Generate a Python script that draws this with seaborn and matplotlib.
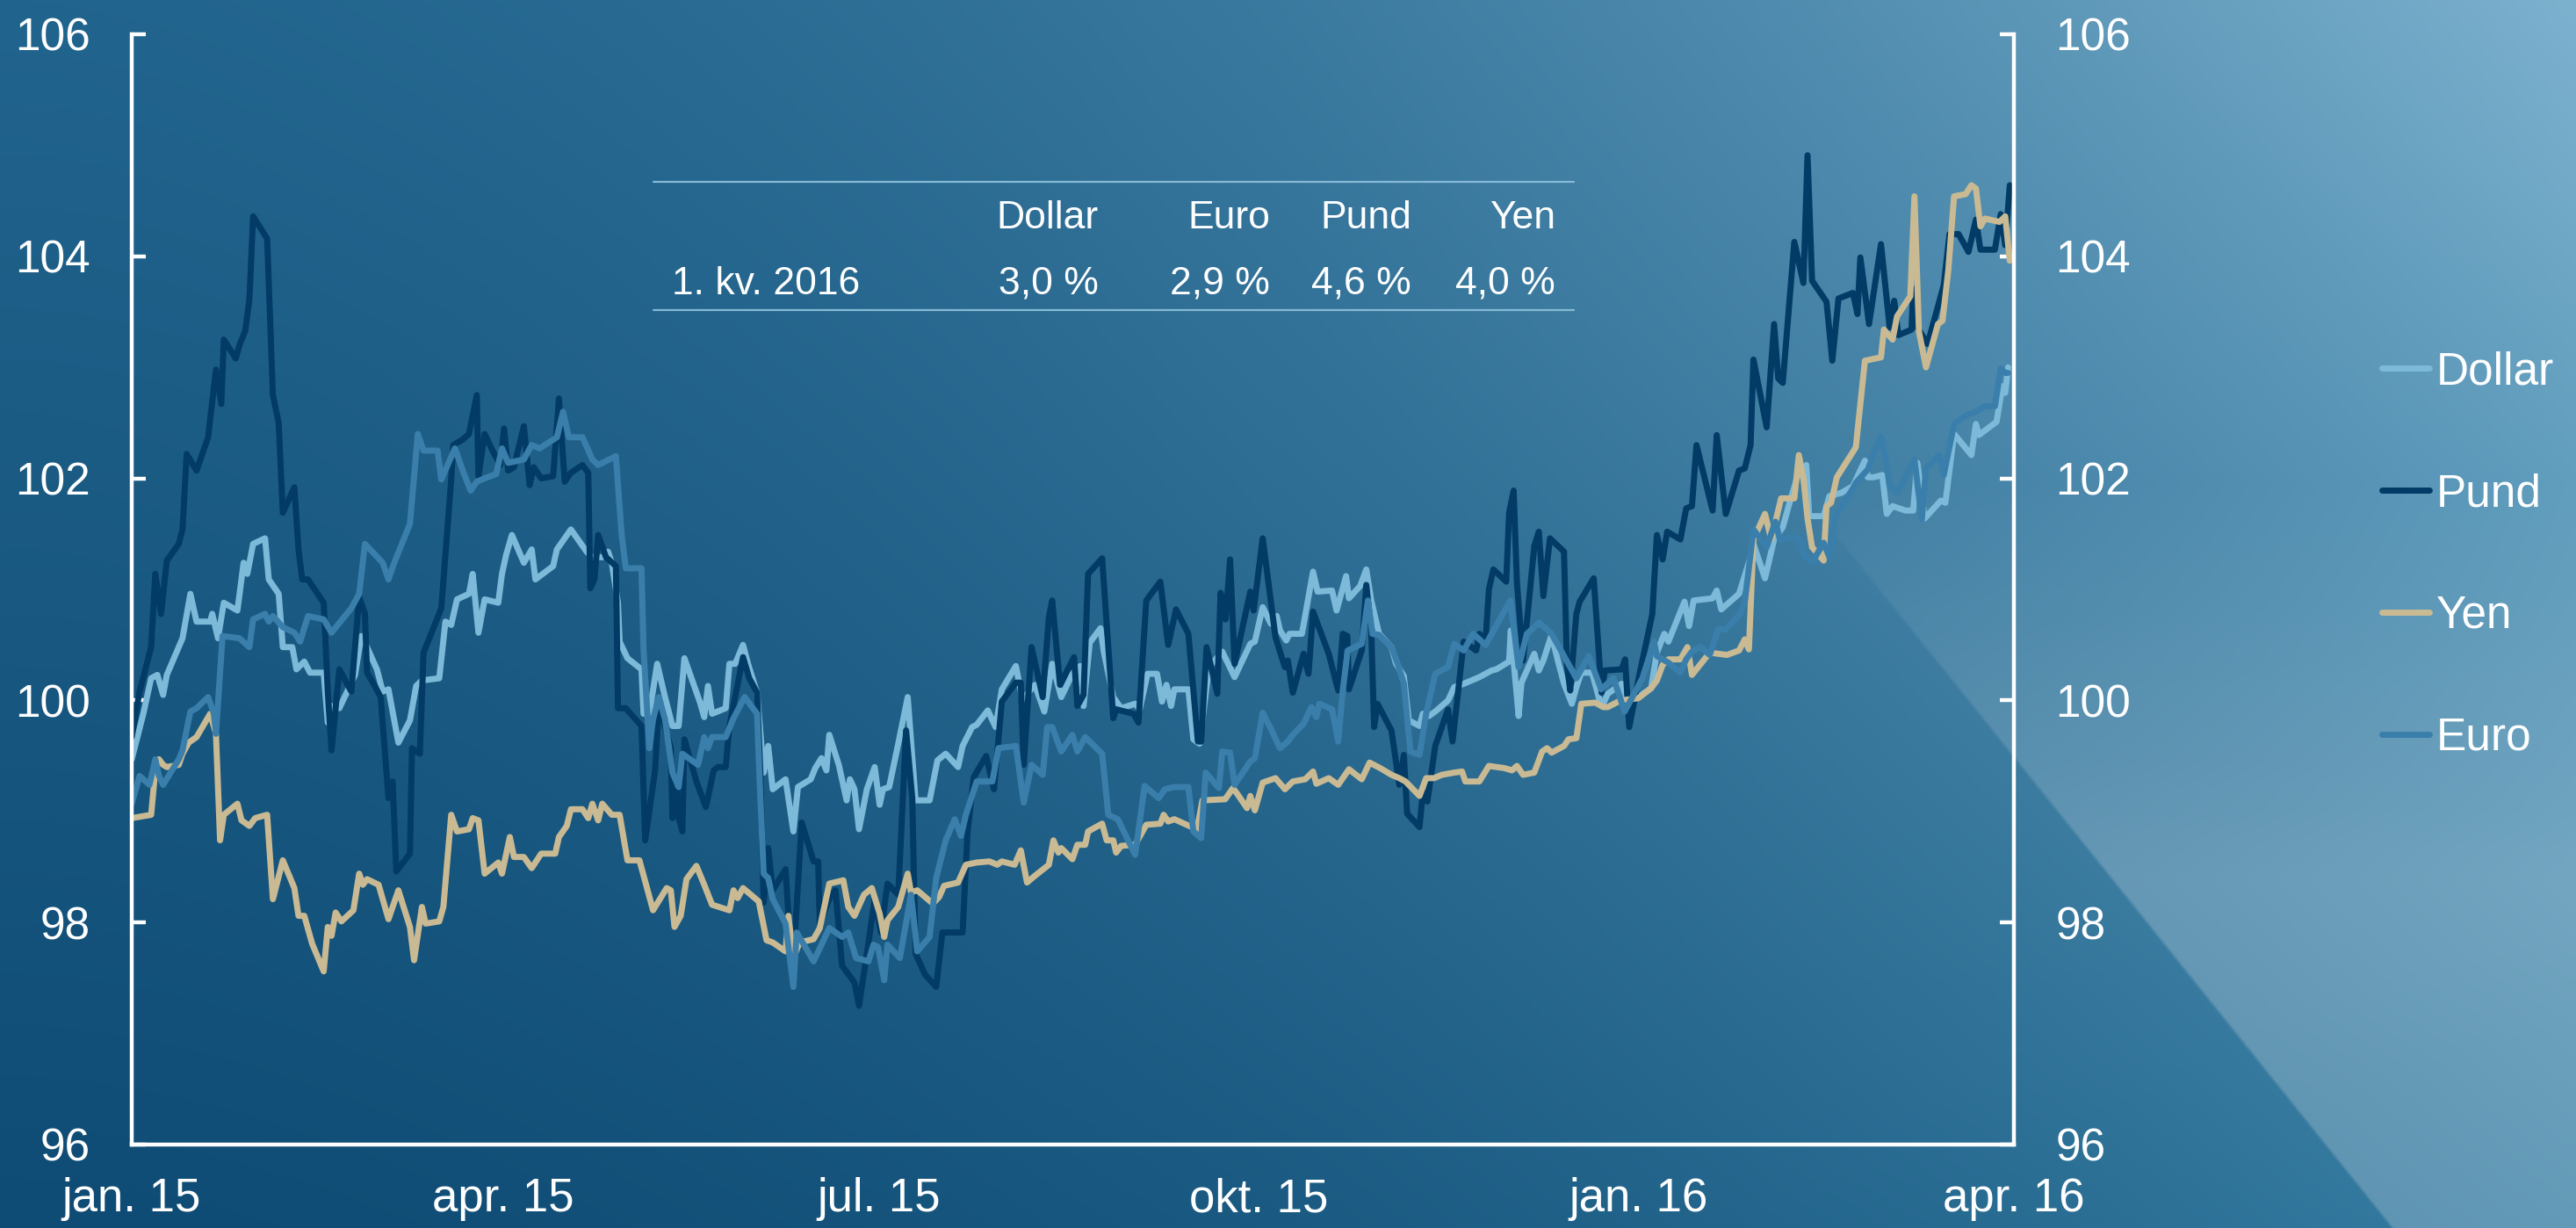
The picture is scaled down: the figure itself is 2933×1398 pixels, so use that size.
import numpy as np
import pandas as pd
import seaborn as sns
import matplotlib.pyplot as plt
import matplotlib.dates as mdates
from matplotlib.lines import Line2D

W, H = 2933, 1398

# --- data: days after 2015-01-01 and index values ---
dollar_days = [0, 2.8, 4.7, 6.2, 7.6, 8.5, 12.3, 14.2, 15.7, 19, 19.5, 20.9, 22.3, 25.6, 27.1, 28, 29.4, 32.3, 33.2, 35.6,
               36.6, 38.9, 39.9, 41.8, 43.2, 46.5, 47.5, 48.4, 50.3, 54.1, 55.6, 57, 59.4, 60.8, 62.2, 64.6, 67.4, 68.9, 70.3, 74.5,
               76, 77.4, 78.8, 81.7, 82.6, 84, 85.5, 88.8, 89.7, 90.7, 92.1, 95, 96.9, 97.8, 102.1, 103, 106.4, 110.2, 111.6, 114,
               115.4, 116.3, 117.8, 118.2, 120.1, 123.5, 124, 125.4, 127.3, 129.2, 131, 132.5, 133.9, 137.7, 138.7, 139.6, 140.6, 143.9, 144.8, 146.2,
               148.1, 149.3, 151.5, 153.1, 154.2, 155.3, 158.4, 160.3, 161.4, 164.5, 165.6, 167.1, 168.3, 169, 171.3, 173.2, 174, 175.1, 176.2, 178.1,
               180, 181.2, 182, 183.5, 185.7, 188, 189.9, 193.3, 195.2, 197.2, 200.2, 201.3, 203.6, 204.7, 207.4, 209.3, 210.8, 214.2, 215.8, 218.8,
               221.1, 223, 225.2, 227.9, 229.8, 230.6, 232.1, 234.7, 235.5, 237.8, 239.7, 243.1, 244.2, 246.1, 248.4, 249.6, 250.7, 251.8, 252.6, 256,
               257.2, 258.7, 261, 264.2, 267.2, 271, 272.1, 274, 276, 277.4, 278.2, 279.7, 280.5, 283.5, 286.2, 287.3, 290.8, 291.9, 294.2, 294.9,
               297.6, 299.1, 300.3, 302.2, 305.2, 306.3, 308.2, 309.4, 312, 312.8, 314.3, 315.8, 318.9, 320.4, 322.7, 326.5, 328, 329.5, 330.6, 333.7,
               334.1, 335.6, 336, 336.7, 339.8, 340.9, 342, 344, 345.5, 347, 348.9, 350, 351.2, 353.8, 355.7, 356.5, 357.6, 361, 361.7, 363.8,
               368.1, 369.5, 371.3, 372.3, 376.2, 377.3, 378.4, 383, 384, 385.1, 389.4, 392.2, 392.9, 395.7, 397.9, 400, 401.8, 403.5, 405.7, 406.4,
               409.9, 411.3, 414.2, 417, 419.9, 420.6, 422, 424.1, 425.2, 426.6, 429.8, 431.6, 432.6, 434.4, 438.3, 439.4, 441.5, 445.7, 446.8, 447.5,
               451.8, 453.2, 453.9, 454.6]
dollar_vals = [99.47, 99.88, 100.2, 100.23, 100.05, 100.23, 100.56, 100.96, 100.71, 100.71, 100.78, 100.56, 100.88, 100.81, 101.24, 101.14, 101.41, 101.46, 101.09, 100.96,
               100.48, 100.48, 100.28, 100.35, 100.25, 100.25, 99.8, 99.95, 99.93, 100.23, 100.58, 100.48, 100.28, 100.08, 100.1, 99.62, 99.82, 100.13, 100.18, 100.2,
               100.71, 100.68, 100.91, 100.96, 101.14, 100.61, 100.91, 100.88, 101.14, 101.31, 101.49, 101.24, 101.36, 101.09, 101.21, 101.36, 101.54, 101.34, 101.29, 101.29,
               101.34, 101.24, 100.88, 100.53, 100.38, 100.28, 99.88, 99.88, 100.33, 100.03, 99.77, 99.77, 100.38, 99.98, 99.85, 100.13, 99.88, 99.93, 100.33, 100.33,
               100.5, 100.33, 100.07, 99.35, 99.59, 99.2, 99.29, 98.82, 99.22, 99.29, 99.39, 99.48, 99.37, 99.69, 99.42, 99.1, 99.29, 99.2, 98.84, 99.2,
               99.4, 99.06, 99.2, 99.22, 99.61, 100.03, 99.1, 99.1, 99.46, 99.52, 99.4, 99.59, 99.76, 99.78, 99.91, 99.76, 100.1, 100.31, 100.01, 100.14,
               99.9, 100.33, 100.03, 100.24, 100.31, 99.95, 100.52, 100.65, 100.44, 100.03, 99.93, 99.97, 99.92, 100.24, 100.24, 99.99, 100.14, 99.95, 100.1, 100.1,
               99.65, 99.61, 100.3, 100.44, 100.21, 100.51, 100.53, 100.84, 100.69, 100.76, 100.63, 100.54, 100.6, 100.6, 101.16, 100.98, 100.99, 100.81, 101.12, 100.92,
               101.03, 101.18, 100.9, 100.6, 100.48, 100.33, 100.22, 99.82, 99.77, 99.88, 99.86, 99.9, 100.0, 100.12, 100.15, 100.21, 100.24, 100.27, 100.28, 100.35,
               100.63, 100.03, 99.86, 100.16, 100.42, 100.27, 100.36, 100.59, 100.36, 100.15, 99.97, 100.12, 100.25, 100.25, 99.99, 99.97, 100.06, 100.15, 99.93, 100.0,
               100.11, 100.43, 100.6, 100.53, 100.89, 100.67, 100.9, 100.92, 100.99, 100.82, 100.96, 101.29, 101.41, 101.1, 101.45, 101.56, 101.8, 102.01, 102.12, 101.66,
               101.66, 101.84, 101.87, 101.93, 102.16, 102.01, 102.01, 102.03, 101.68, 101.75, 101.71, 101.71, 102.14, 101.64, 101.8, 101.78, 102.4, 102.21, 102.49, 102.39,
               102.51, 102.83, 102.77, 103.0]

pund_days = [0, 1.9, 4.7, 5.7, 7.1, 8.5, 11.4, 12.3, 13.3, 15.7, 18.5, 20.4, 21.7, 22.3, 25.2, 26.1, 27.5, 28.5, 29.4, 32.8,
             34.2, 35.6, 36.6, 39.4, 40.4, 41.3, 42.7, 46.5, 47.5, 48.4, 50.3, 53.2, 55.1, 56.5, 57, 58.9, 60.3, 62.2, 63.2, 64.1,
             67.4, 67.9, 69.8, 70.7, 75, 77.4, 77.9, 80.2, 81.7, 83.6, 84, 85.5, 87.4, 89.3, 90.2, 91.2, 92.6, 95, 96.4, 97.4,
             99.2, 102.1, 103.5, 104.9, 106.4, 109.2, 110.6, 111.1, 112.1, 113, 114.9, 117.3, 117.8, 119.7, 123.5, 124.4, 126.8, 127.7, 130.6, 131,
             132, 132.5, 133.4, 133.9, 136.8, 139.1, 141, 142, 143.9, 144.8, 148.1, 149.6, 151.5, 152.3, 153.1, 154.2, 155.3, 158.4, 159.5, 160.3,
             162.3, 165.2, 166.3, 166.7, 169.4, 170.5, 172.1, 175.1, 176.2, 178.1, 180, 181.5, 183.1, 185.7, 187.6, 189.1, 189.9, 192.2, 194.9, 196.4,
             201.3, 202.5, 204, 207, 208.9, 210.8, 214.2, 215.4, 216.1, 218, 220.7, 222.2, 223, 224.9, 228.3, 229.1, 230.6, 231.7, 235.1, 237.8,
             238.5, 242.7, 243.9, 245.8, 249.2, 251.1, 253, 256, 258.3, 259.1, 260.4, 263, 263.8, 265, 266.1, 267.2, 271, 271.8, 274, 277.1,
             278.6, 279.4, 280.1, 281.3, 283.9, 285.1, 286.2, 290, 292.3, 293.4, 294.5, 294.9, 298, 299.1, 300.3, 301, 301.8, 305.2, 307.1, 308.2,
             309, 312, 312.8, 313.9, 315.8, 318.9, 320, 322.7, 325.7, 326.5, 328, 328.8, 329.9, 333, 333.7, 334.8, 335.6, 337.1, 339.8, 340.9,
             342, 343.6, 347, 347.7, 348.5, 350, 350.8, 354.2, 356.1, 356.9, 361, 361.8, 362.8, 365.2, 368.4, 369.5, 370.9, 372, 375.2, 376.6,
             378, 379.1, 383, 384, 386.2, 389.4, 390.8, 392.2, 392.9, 396.1, 397.9, 398.9, 400, 402.8, 405, 406, 407.1, 410.6, 412, 413.5,
             417, 418.1, 418.8, 420.9, 423.8, 425.9, 427, 428, 431.2, 431.6, 432.6, 435.1, 439, 440.4, 442.6, 445, 446.8, 447.9, 451.4, 452.8,
             453.9, 455]
pund_vals = [99.67, 100.08, 100.48, 101.14, 100.78, 101.26, 101.41, 101.54, 102.22, 102.07, 102.37, 102.98, 102.67, 103.25, 103.08, 103.2, 103.33, 103.61, 104.36, 104.16,
             102.75, 102.5, 101.69, 101.92, 101.36, 101.09, 101.09, 100.88, 100.08, 99.55, 100.28, 100.08, 100.93, 100.78, 100.25, 100.13, 100.03, 99.12, 99.27, 98.46,
             98.62, 99.57, 99.52, 100.43, 100.83, 101.99, 102.3, 102.35, 102.4, 102.75, 102.02, 102.4, 102.25, 102.12, 102.45, 102.07, 102.1, 102.47, 101.94, 102.1,
             102.0, 102.02, 102.72, 101.97, 102.05, 102.12, 102.05, 101.01, 101.09, 101.49, 101.29, 101.21, 99.93, 99.93, 99.77, 98.74, 99.37, 99.98, 99.57, 98.94,
             99.19, 98.94, 98.82, 99.65, 99.27, 99.04, 99.37, 99.4, 99.4, 99.77, 100.39, 100.2, 100.07, 99.35, 98.18, 98.67, 98.29, 98.48, 97.84, 97.65,
             98.9, 98.55, 98.55, 97.99, 98.25, 98.29, 97.61, 97.46, 97.25, 97.72, 98.21, 97.91, 98.35, 98.25, 99.73, 99.12, 97.72, 97.53, 97.42, 97.91,
             97.91, 98.82, 99.31, 99.5, 99.2, 99.99, 100.16, 100.16, 99.42, 100.48, 100.03, 100.75, 100.9, 100.14, 100.39, 99.95, 100.05, 101.14, 101.28, 99.84,
             99.92, 99.88, 99.8, 100.9, 101.07, 100.5, 100.82, 100.6, 99.63, 99.63, 100.48, 100.06, 100.97, 100.73, 101.27, 100.33, 100.98, 100.81, 101.46, 100.57,
             100.39, 100.3, 100.36, 100.07, 100.42, 100.24, 100.8, 100.42, 100.09, 100.6, 100.58, 100.1, 100.45, 101.04, 100.63, 99.76, 99.97, 99.73, 99.24, 99.51,
             98.98, 98.86, 99.18, 99.09, 99.59, 99.92, 99.63, 100.53, 100.45, 100.6, 100.54, 101.0, 101.18, 101.07, 101.69, 101.89, 101.06, 100.36, 101.39, 101.52,
             100.94, 101.46, 101.34, 100.33, 100.09, 100.78, 100.89, 101.1, 100.07, 100.27, 100.28, 100.37, 99.76, 100.22, 100.78, 101.49, 101.27, 101.52, 101.45, 101.73,
             101.75, 102.3, 101.71, 102.39, 101.68, 102.07, 102.09, 102.3, 103.07, 102.46, 103.39, 102.9, 102.86, 104.13, 103.76, 104.91, 103.78, 103.59, 103.06, 103.62,
             103.67, 103.48, 103.99, 103.39, 104.11, 103.36, 103.6, 103.29, 103.34, 103.71, 103.36, 103.21, 103.74, 104.2, 104.2, 104.04, 104.33, 104.06, 104.06, 104.38,
             104.1, 104.64]

yen_days = [0, 4.7, 5.7, 6.6, 7.6, 8.5, 11.4, 12.3, 13.8, 15.7, 19, 20.4, 21.4, 22.3, 25.6, 26.6, 28.5, 29.9, 32.8, 34.2,
            36.6, 39.4, 40.4, 41.8, 43.7, 46.5, 47.5, 48.4, 49.4, 50.8, 53.7, 55.1, 56, 57, 59.8, 62.2, 64.6, 67.4, 68.4, 70.3,
            71.2, 74.5, 75.5, 77.4, 78.8, 81.7, 82.6, 84, 85.5, 88.8, 89.7, 91.6, 92.6, 95, 96.9, 99.2, 102.6, 103.5, 105.4, 106.4,
            109.2, 110.6, 111.6, 113, 114, 116.3, 118.2, 120.1, 123, 126.3, 129.6, 130.6, 131.5, 133, 134.4, 136.8, 138.7, 140.6, 144.8, 145.8,
            146.8, 148.1, 151.9, 153.8, 155.3, 158.4, 159.1, 160.3, 161.8, 165.2, 166.7, 169, 172.4, 173.6, 175.1, 177.4, 179.3, 181.2, 182.3, 183.1,
            185.7, 188, 188.8, 190.3, 194.1, 195.6, 196.8, 200.2, 202.1, 204.7, 207.8, 209.7, 210.8, 213.9, 215.4, 216.9, 218.8, 222.2, 223.3, 224.5,
            225.2, 227.9, 229.1, 231, 231.7, 235.1, 236.2, 237.8, 238.5, 239.7, 243.1, 245.8, 249.2, 250, 251.1, 252.6, 256.8, 257.9, 259.4, 264.9,
            266.8, 268, 270.2, 271, 272.1, 274, 277.1, 279.4, 281.3, 284.3, 286.2, 287, 290, 292.3, 294.9, 298, 299.9, 302.5, 305.2, 307.1,
            308.6, 312, 313.6, 315.5, 317.4, 320.4, 322.3, 323.1, 326.5, 328.8, 332.6, 334.4, 335.6, 337.1, 339.8, 341.7, 342.9, 344, 347, 348.1,
            350, 351.2, 354.6, 356.5, 357.6, 360.7, 365, 368.1, 369.5, 370.9, 372.3, 375.2, 376.9, 378, 382.3, 386.5, 389.4, 390.8, 391.8, 392.9,
            395.7, 397.2, 399.6, 402.8, 403.9, 405, 406, 407.1, 409.9, 410.6, 411.7, 413.1, 417.7, 419.9, 423.8, 424.5, 426.6, 427.7, 430.9, 431.9,
            433, 434.7, 437.6, 438.7, 440.1, 441.5, 444.3, 445.7, 446.8, 447.9, 449, 452.5, 453.9, 455]
yen_vals = [98.94, 98.97, 99.37, 99.47, 99.42, 99.4, 99.42, 99.52, 99.62, 99.67, 99.88, 99.7, 98.74, 98.97, 99.07, 98.92, 98.87, 98.94, 98.97, 98.21,
            98.56, 98.31, 98.06, 98.06, 97.81, 97.56, 97.96, 97.88, 98.09, 98.01, 98.11, 98.44, 98.34, 98.39, 98.34, 98.03, 98.29, 97.96, 97.66, 98.14,
            97.99, 98.01, 98.14, 98.97, 98.82, 98.84, 98.94, 98.92, 98.44, 98.54, 98.44, 98.77, 98.59, 98.59, 98.49, 98.62, 98.62, 98.77, 98.87, 99.02,
            99.02, 98.94, 99.07, 98.92, 99.07, 98.97, 98.97, 98.56, 98.56, 98.11, 98.31, 98.29, 97.96, 98.06, 98.39, 98.51, 98.34, 98.16, 98.11, 98.29,
            98.22, 98.31, 98.19, 97.84, 97.82, 97.74, 98.06, 97.68, 97.82, 97.85, 97.95, 98.35, 98.38, 98.14, 98.06, 98.25, 98.31, 98.08, 97.87, 98.02,
            98.14, 98.44, 98.27, 98.29, 98.17, 98.23, 98.33, 98.36, 98.52, 98.54, 98.55, 98.52, 98.55, 98.52, 98.65, 98.36, 98.42, 98.52, 98.74, 98.63,
            98.67, 98.57, 98.7, 98.7, 98.82, 98.89, 98.74, 98.74, 98.63, 98.69, 98.7, 98.88, 98.89, 98.97, 98.91, 98.93, 98.86, 98.8, 99.1, 99.11,
            99.21, 99.15, 99.03, 99.14, 99.01, 99.26, 99.3, 99.2, 99.27, 99.29, 99.36, 99.25, 99.3, 99.24, 99.38, 99.29, 99.44, 99.39, 99.33, 99.3,
            99.27, 99.14, 99.3, 99.3, 99.33, 99.35, 99.36, 99.27, 99.27, 99.41, 99.39, 99.37, 99.41, 99.33, 99.35, 99.54, 99.57, 99.53, 99.59, 99.65,
            99.66, 99.97, 99.98, 99.94, 99.94, 100.0, 100.02, 100.11, 100.18, 100.32, 100.37, 100.37, 100.48, 100.23, 100.43, 100.41, 100.45, 100.55, 100.46, 101.45,
            101.68, 101.45, 101.82, 101.82, 102.21, 102.0, 101.64, 101.38, 101.26, 101.75, 101.78, 102.01, 102.28, 103.06, 103.09, 103.34, 103.25, 103.46, 103.64, 104.54,
            103.32, 103.0, 103.39, 103.42, 103.87, 104.54, 104.56, 104.64, 104.61, 104.27, 104.34, 104.31, 104.36, 103.96]

euro_days = [0, 1.9, 4.3, 5.7, 6.6, 7.6, 11.4, 12.3, 14.2, 15.7, 18.5, 19.9, 20.4, 22, 26.1, 28.5, 29.4, 32.3, 33.2, 34.2,
             36.6, 39.4, 40.8, 42.7, 46.5, 48.4, 49.9, 53.2, 55.1, 56.5, 60.8, 62.2, 63.6, 67.4, 69.3, 70.7, 74.1, 75, 78.3, 80.2,
             82.1, 83.6, 85.5, 88.3, 89.7, 91.2, 95, 96.9, 98.8, 103, 104.5, 105.9, 109.2, 111.6, 113, 117.3, 118.7, 119.7, 123.5, 124,
             125.4, 126.3, 127.7, 129.2, 131, 132.5, 133.4, 137.2, 138.7, 139.6, 140.6, 143.9, 145.8, 148.5, 151.5, 152.3, 153.1, 154.2, 155.3, 158.4,
             160.3, 161.1, 165.2, 169, 172.1, 173.6, 175.5, 178.5, 179.7, 180.8, 182.3, 183.1, 186.1, 188.8, 190.3, 193.3, 194.9, 197.2, 199.4, 200.9,
             202.1, 204.7, 208.5, 210, 214.2, 216.1, 218, 220.7, 221.8, 223, 225.2, 227.9, 229.1, 231, 235.1, 236.6, 238.9, 243.1, 245.4, 248.8,
             250.3, 252.6, 256, 257.2, 259.1, 260.2, 263.4, 264.2, 266.1, 267.2, 271, 272.1, 274, 276.3, 278.2, 280.1, 281.3, 283.9, 285.8, 287,
             287.7, 290.8, 292.3, 293.4, 294.6, 298, 299.5, 300.6, 302.2, 305.2, 306.7, 308.2, 309.8, 312, 313.6, 315.8, 318.9, 320.4, 322.7, 325,
             328, 331, 334, 336, 338, 341, 344, 347, 350, 353, 356, 359, 361.7, 366, 368.8, 369.5, 372.3, 375.2, 376.6, 378,
             380.1, 382.3, 384.4, 386.2, 389.7, 390.8, 391.5, 392.9, 396.1, 398.2, 399.3, 402.8, 404.2, 405.3, 407.1, 409.9, 411.3, 412.8, 417, 417.7,
             420.6, 423.8, 425.2, 425.9, 427.7, 431.9, 433.7, 434.7, 437.9, 439, 441.5, 445, 446.8, 449, 451.4, 452.8, 453.9, 454.6]
euro_vals = [99.07, 99.32, 99.24, 99.47, 99.32, 99.24, 99.47, 99.55, 99.9, 99.93, 100.03, 99.88, 99.7, 100.58, 100.56, 100.48, 100.73, 100.78, 100.71, 100.76,
             100.66, 100.61, 100.53, 100.76, 100.73, 100.61, 100.68, 100.83, 100.96, 101.41, 101.24, 101.09, 101.24, 101.59, 102.4, 102.25, 102.25, 101.99, 102.27, 102.07,
             101.89, 101.97, 102.0, 102.04, 102.27, 102.14, 102.17, 102.3, 102.27, 102.37, 102.6, 102.37, 102.37, 102.17, 102.12, 102.2, 101.49, 101.19, 101.19, 100.46,
             99.57, 99.83, 100.03, 99.83, 99.35, 99.22, 99.52, 99.42, 99.67, 99.57, 99.67, 99.67, 99.84, 100.03, 99.88, 99.12, 98.44, 98.4, 98.21, 97.99,
             97.42, 97.91, 97.65, 97.95, 97.87, 97.91, 97.68, 97.65, 97.8, 97.78, 97.48, 97.8, 97.68, 98.25, 97.74, 97.87, 98.4, 98.74, 98.93, 98.78,
             98.97, 99.27, 99.27, 99.57, 99.59, 99.08, 99.42, 99.33, 99.76, 99.76, 99.54, 99.69, 99.54, 99.67, 99.52, 98.97, 98.93, 98.61, 99.23, 99.12,
             99.2, 99.22, 99.22, 98.82, 98.76, 99.35, 99.21, 99.54, 99.53, 99.24, 99.45, 99.48, 99.89, 99.72, 99.57, 99.63, 99.69, 99.79, 99.94, 99.85,
             99.97, 99.92, 99.63, 100.09, 100.45, 100.51, 100.9, 100.6, 100.59, 100.48, 100.33, 100.15, 99.54, 99.51, 99.88, 100.24, 100.3, 100.51, 100.45, 100.6,
             100.5, 100.7, 100.9, 100.3, 100.6, 100.7, 100.6, 100.4, 100.2, 100.4, 100.1, 100.2, 99.9, 100.2, 100.53, 100.4, 100.34, 100.25, 100.37, 100.44,
             100.48, 100.41, 100.64, 100.64, 100.78, 100.89, 101.1, 101.54, 101.38, 101.61, 101.45, 101.47, 101.45, 101.31, 101.24, 101.42, 101.29, 101.66, 101.91, 101.96,
             102.08, 102.38, 102.12, 101.93, 101.87, 102.17, 101.63, 102.09, 102.21, 102.03, 102.49, 102.58, 102.6, 102.65, 102.65, 102.99, 102.95, 102.95]

series_names = ["Dollar", "Pund", "Yen", "Euro"]
series_days = [dollar_days, pund_days, yen_days, euro_days]
series_vals = [dollar_vals, pund_vals, yen_vals, euro_vals]
colors = {"Dollar": "#7db9d8", "Pund": "#023b66", "Yen": "#c9ba93", "Euro": "#3a7fab"}

quarter_ticks = ["2015-01-01", "2015-04-01", "2015-07-01", "2015-10-01", "2016-01-01", "2016-04-01"]
quarter_labels = ["jan. 15", "apr. 15", "jul. 15", "okt. 15", "jan. 16", "apr. 16"]

table_header = ["Dollar", "Euro", "Pund", "Yen"]
table_row_label = "1. kv. 2016"
table_values = ["3,0 %", "2,9 %", "4,6 %", "4,0 %"]

# --- build long table ---
start = pd.Timestamp("2015-01-01")
frames = []
for name, days, vals in zip(series_names, series_days, series_vals):
    frames.append(pd.DataFrame({
        "date": start + pd.to_timedelta(days, unit="D"),
        "value": vals,
        "serie": name,
    }))
df = pd.concat(frames, ignore_index=True)

sns.set_style("ticks")
plt.rcParams["font.family"] = ["Liberation Sans", "DejaVu Sans"]

fig = plt.figure(figsize=(W / 100, H / 100), dpi=100)

# background gradient with a lighter wedge on the lower right
ys, xs = np.mgrid[0:H:2, 0:W:2].astype(float)
fx = (xs / W) ** 1.8
fy = 1 - ys / H
img = (np.array([15, 76, 117]) + fx[..., None] * np.array([40, 50, 46])
       + fy[..., None] * np.array([18, 24, 24]) + (fx * fy)[..., None] * np.array([52, 28, 20]))
edge = np.clip((xs - (1599 + 0.804 * ys)) / 4, 0, 1)
mask = edge * np.clip((ys - 550) / 450, 0, 1) * 0.22
img = img + (255 - img) * mask[..., None]
bg = fig.add_axes([0, 0, 1, 1], zorder=0)
bg.imshow(np.clip(img / 255, 0, 1), aspect="auto", extent=(0, W, H, 0), interpolation="bilinear")
bg.axis("off")

ax = fig.add_axes([150 / W, 1 - 1303 / H, (2293 - 150) / W, (1303 - 39) / H], zorder=1)
ax.patch.set_alpha(0)

sns.lineplot(data=df, x="date", y="value", hue="serie", hue_order=series_names,
             palette=colors, linewidth=5.0, estimator=None, sort=False, ax=ax)

ax.set_xlim(mdates.date2num(pd.Timestamp("2015-01-01")), mdates.date2num(pd.Timestamp("2016-04-01")))
ax.set_ylim(96, 106)
ax.set_yticks([96, 98, 100, 102, 104, 106])
ax.set_xticks(mdates.date2num(pd.to_datetime(quarter_ticks)))
ax.set_xticklabels(quarter_labels)
ax.set_xlabel("")
ax.set_ylabel("")

for side in ["left", "right", "bottom"]:
    ax.spines[side].set_visible(True)
    ax.spines[side].set_color("white")
    ax.spines[side].set_linewidth(3.2)
ax.spines["top"].set_visible(False)

ax.tick_params(axis="y", direction="in", length=11.5, width=3.2, color="white",
               labelcolor="white", labelsize=37, pad=34,
               left=True, right=True, labelleft=True, labelright=True)
ax.tick_params(axis="x", length=0, labelcolor="white", labelsize=38, pad=27)

# legend at the right
handles, labels = ax.get_legend_handles_labels()
ax.get_legend().remove()
for h in handles:
    h.set_linewidth(5.0)
fig.legend(handles, labels, loc="center left", bbox_to_anchor=(2712 / W, 1 - 632 / H),
           frameon=False, fontsize=37, labelcolor="white", handlelength=1.05,
           handletextpad=0.15, labelspacing=1.75, borderpad=0, borderaxespad=0)

# small table inside the plot
line_col = "#86bad6"
for yy in (207, 353):
    fig.add_artist(Line2D([744 / W, 1792 / W], [1 - yy / H, 1 - yy / H],
                          color=line_col, linewidth=1.6, transform=fig.transFigure))
col_right = [1251, 1446, 1607, 1771]
for txt, xr in zip(table_header, col_right):
    fig.text(xr / W, 1 - 260 / H, txt, ha="right", va="baseline", color="white", fontsize=32)
fig.text(765 / W, 1 - 335 / H, table_row_label, ha="left", va="baseline", color="white", fontsize=32)
for txt, xr in zip(table_values, col_right):
    fig.text(xr / W, 1 - 335 / H, txt, ha="right", va="baseline", color="white", fontsize=32)

fig.savefig("out.png", dpi=100)
